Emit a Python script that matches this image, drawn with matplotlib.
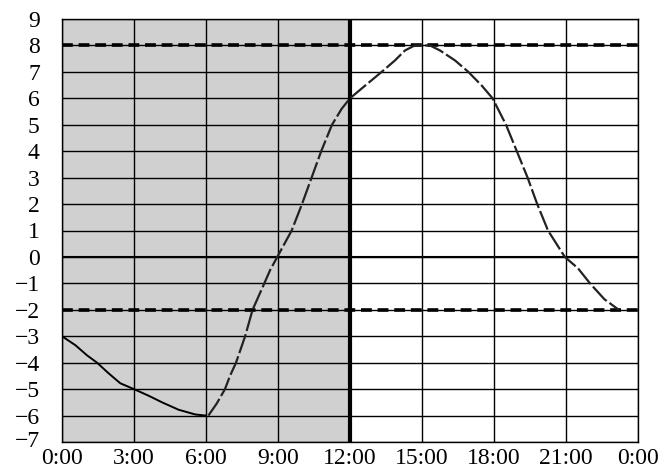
import matplotlib
matplotlib.use("Agg")
import matplotlib.pyplot as plt
import matplotlib.transforms as mtransforms
import numpy as np

# 0:00 - 6:00 part, drawn solid
hours_solid = [0, 0.56, 1.04, 1.46, 1.94, 2.43, 3, 3.61, 4.17, 4.86, 5.56, 6]
temp_solid = [-3, -3.34, -3.72, -4, -4.4, -4.78, -5, -5.25, -5.5, -5.78, -5.96, -6]

# 6:00 - 24:00 part, drawn dashed
hours_dash = [6.1, 6.45, 6.79, 7.0, 7.25, 7.63, 7.94, 8.43, 8.67, 8.97, 9.57, 10.0,
              10.4, 10.8, 11.25, 11.65, 12.0, 12.63, 13.32, 13.87, 14.29, 14.7,
              15.33, 15.75, 16.38, 16.93, 17.49, 17.94, 18.5, 18.95, 19.4, 19.8,
              20.25, 20.95, 21.5, 22.0, 22.6, 23.2]
temp_dash = [-6, -5.54, -5, -4.5, -4, -3, -2, -1, -0.5, 0, 1, 2,
             3, 4, 5, 5.6, 6, 6.48, 7, 7.43, 7.81, 8,
             8, 7.81, 7.43, 7, 6.48, 6, 5, 4, 3, 2,
             1, 0, -0.43, -1, -1.6, -2]

xticks = [0, 3, 6, 9, 12, 15, 18, 21, 24]
xlabels = ['0:00', '3:00', '6:00', '9:00', '12:00', '15:00', '18:00', '21:00', '0:00']
yticks = list(range(-7, 10))
ref_lines = [8, -2]

plt.rcParams['font.family'] = ['Liberation Serif', 'DejaVu Serif']

fig = plt.figure(figsize=(6.62, 4.70), dpi=100)
ax = fig.add_axes([62/662, 1-442/470, 576/662, 423/470])

ax.axvspan(0, 12, color='#d0d0d0', zorder=0)

for x in xticks:
    ax.axvline(x, color='black', lw=1.0, zorder=1)
for y in yticks:
    ax.axhline(y, color='black', lw=1.0, zorder=1)
ax.axhline(0, color='black', lw=1.5, zorder=1)
ax.axvline(12, color='black', lw=3.0, zorder=2)

for y in ref_lines:
    ax.axhline(y, color='black', lw=2.6, linestyle=(0, (3, 1.6)), zorder=2)

ax.plot(hours_solid, temp_solid, color='black', lw=1.4, zorder=3)
ax.plot(hours_dash, temp_dash, color='#222222', lw=1.6, linestyle=(0, (9, 1.5)), zorder=3)

ax.set_xlim(0, 24)
ax.set_ylim(-7, 9)
ax.set_xticks(xticks)
ax.set_xticklabels(xlabels)
ax.set_yticks(yticks)
ax.set_yticklabels([str(v).replace('-', '\u2212') for v in yticks])
ax.tick_params(length=0, labelsize=17)
ax.tick_params(axis='y', pad=16)
ax.tick_params(axis='x', pad=4)
for s in ax.spines.values():
    s.set_linewidth(1.0)

# bottom y label sits a little higher, as in the original
lbl = ax.get_yticklabels()[0]
lbl.set_transform(lbl.get_transform() + mtransforms.ScaledTranslation(0, 2/72, fig.dpi_scale_trans))

fig.savefig('out.png', dpi=100)
